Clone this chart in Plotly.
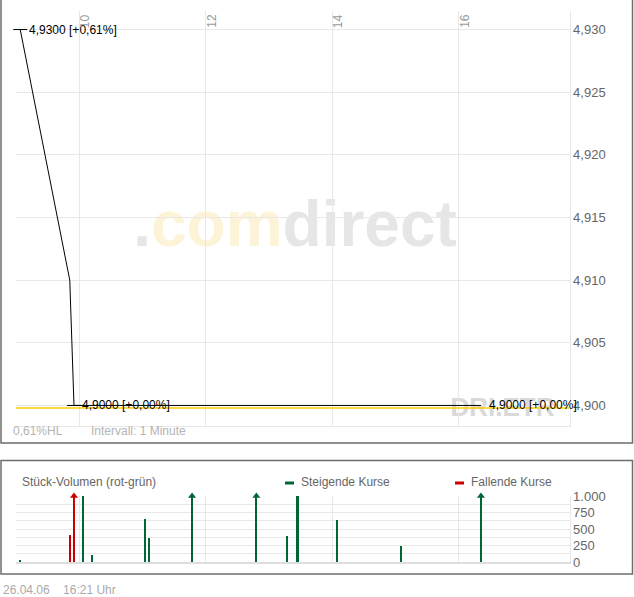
import plotly.graph_objects as go

# ---------------- data ----------------
DAY = "2006-04-26"
price_times = ["09:04", "09:51", "09:53", "09:55", "16:21"]
price_values = [4.930, 4.910, 4.905, 4.900, 4.900]
prev_close = 4.900

vol_times = ["09:04", "09:51", "09:55", "10:04", "10:12", "11:02", "11:06",
             "11:47", "12:48", "13:17", "13:27", "14:04", "15:05", "16:21"]
vol_values = [25, 410, 2000, 1000, 100, 650, 360, 1500, 1800, 400, 1000, 635, 250, 1500]
vol_dir = ["up", "down", "down", "up", "up", "up", "up",
           "up", "up", "up", "up", "up", "up", "up"]

price_ticks = [4.900, 4.905, 4.910, 4.915, 4.920, 4.925, 4.930]
vol_ticks = [0, 250, 500, 750, 1000]
hour_ticks = ["10:00", "12:00", "14:00", "16:00"]
hour_labels = ["10", "12", "14", "16"]
x_range = ["09:00", "17:45"]
price_range = [4.89836, 4.93148]
vol_range = [0, 1000]

# ---------------- helpers ----------------
W, H = 634, 597
FONT = "Liberation Sans, Arial, sans-serif"
GREEN = "#006633"
RED = "#cc0000"
GRID = "#e8e8e8"


def ts(t):
    return f"{DAY} {t}"


def px(x):
    return x / W


def py(y):
    return 1 - y / H


def fmt_de(v, nd):
    return f"{v:.{nd}f}".replace(".", ",")


def price_label(v):
    pct = (v / prev_close - 1) * 100
    return f"{fmt_de(v, 4)} [{'+' if pct >= 0 else ''}{fmt_de(pct, 2)}%]"


px_times = [ts(t) for t in price_times]
vx = [ts(t) for t in vol_times]
xr = [ts(t) for t in x_range]
hx = [ts(t) for t in hour_ticks]

fig = go.Figure()

# price line
fig.add_trace(go.Scatter(x=px_times, y=price_values, mode="lines",
                         line=dict(color="black", width=1), xaxis="x", yaxis="y",
                         hoverinfo="skip", showlegend=False))

# high / low markers
i_hi = max(range(len(price_values)), key=lambda i: price_values[i])
i_lo = min(range(len(price_values)), key=lambda i: price_values[i])
i_last = len(price_values) - 1
fig.add_trace(go.Scatter(x=[px_times[i_hi], px_times[i_lo]],
                         y=[price_values[i_hi], price_values[i_lo]],
                         mode="markers",
                         marker=dict(symbol="line-ew", size=10,
                                     line=dict(color="black", width=1)),
                         cliponaxis=False, xaxis="x", yaxis="y",
                         hoverinfo="skip", showlegend=False))

# volume bars
colors = [GREEN if d == "up" else RED for d in vol_dir]
fig.add_trace(go.Bar(x=vx, y=vol_values, width=114000, marker=dict(color=colors, line=dict(width=0)),
                     xaxis="x2", yaxis="y2", hoverinfo="skip", showlegend=False))

# arrows for clipped bars
ax, ay, ac = [], [], []
for t, v, c in zip(vx, vol_values, colors):
    if v > vol_range[1]:
        ax.append(t)
        ay.append(vol_range[1])
        ac.append(c)
fig.add_trace(go.Scatter(x=ax, y=ay, mode="markers",
                         marker=dict(symbol="triangle-up", size=7, color=ac),
                         cliponaxis=False, xaxis="x2", yaxis="y2",
                         hoverinfo="skip", showlegend=False))

shapes = []
# previous close (yellow) line, slightly below the price line
shapes.append(dict(type="line", xref="paper", x0=px(16), x1=px(569),
                   yref="y", ysizemode="pixel", yanchor=prev_close, y0=-2.5, y1=-2.5,
                   line=dict(color="#ffcc00", width=1.5), layer="above"))
# borders
shapes.append(dict(type="path", xref="paper", yref="paper",
                   path=f"M {px(1)} {py(-2)} L {px(1)} {py(443)} L {px(632.5)} {py(443)} L {px(632.5)} {py(-2)}",
                   line=dict(color="#6e6e6e", width=1.5)))
shapes.append(dict(type="rect", xref="paper", yref="paper",
                   x0=px(1), x1=px(632.5), y0=py(574), y1=py(460.5),
                   line=dict(color="#6e6e6e", width=1.5)))
# legend dashes
shapes.append(dict(type="line", xref="paper", yref="paper", x0=px(285), x1=px(294),
                   y0=py(483), y1=py(483), line=dict(color=GREEN, width=3)))
shapes.append(dict(type="line", xref="paper", yref="paper", x0=px(455), x1=px(464),
                   y0=py(483), y1=py(483), line=dict(color=RED, width=3)))
# watermarks (below grid)
shapes.append(dict(type="rect", xref="paper", yref="paper", layer="below",
                   x0=px(100), x1=px(490), y0=py(258), y1=py(178),
                   line=dict(width=0),
                   label=dict(text='<b><span style="color:#e6e6e6">.</span><span style="color:#fdf3d7">com</span>'
                                   '<span style="color:#e6e6e6">direct</span></b>',
                              font=dict(family=FONT, size=64, color="#e6e6e6"),
                              textposition="middle center")))
shapes.append(dict(type="rect", xref="paper", yref="paper", layer="below",
                   x0=px(430), x1=px(575), y0=py(420), y1=py(390),
                   line=dict(width=0),
                   label=dict(text="<b>DRI.ETR</b>",
                              font=dict(family=FONT, size=26, color="#d9d9d9"),
                              textposition="middle center")))

annotations = []
# price labels
for i, shift in [(i_hi, 7), (i_lo, 6)]:
    annotations.append(dict(x=px_times[i], y=price_values[i], xref="x", yref="y",
                            text=price_label(price_values[i]), showarrow=False,
                            xanchor="left", yanchor="middle", xshift=shift,
                            font=dict(family=FONT, size=12, color="black")))
annotations.append(dict(x=px_times[i_last], y=price_values[i_last], xref="x", yref="y",
                        text=price_label(price_values[i_last]), showarrow=False,
                        xanchor="left", yanchor="middle", xshift=6,
                        font=dict(family=FONT, size=12, color="black")))
# hour labels (rotated, top)
for t, lab in zip(hx, hour_labels):
    annotations.append(dict(x=t, y=py(21), xref="x", yref="paper", text=lab,
                            showarrow=False, textangle=-90, xanchor="center",
                            yanchor="middle", xshift=6,
                            font=dict(family=FONT, size=12, color="#999999")))
# misc texts
def txt(x, y, s, color="#aaaaaa", size=12):
    annotations.append(dict(x=px(x), y=py(y), xref="paper", yref="paper", text=s,
                            showarrow=False, xanchor="left", yanchor="middle",
                            font=dict(family=FONT, size=size, color=color)))


txt(11, 431, "0,61%HL", "#b4b4b4")
txt(89, 431, "Intervall: 1 Minute", "#b4b4b4")
txt(20, 482, "Stück-Volumen (rot-grün)", "#666666")
txt(299, 482, "Steigende Kurse", "#666666")
txt(469, 482, "Fallende Kurse", "#666666")
txt(1, 590, "26.04.06&nbsp;&nbsp;&nbsp;&nbsp;16:21 Uhr", "#aaaaaa")

xdom = [px(16), px(569.5)]
fig.update_layout(
    width=W, height=H, margin=dict(l=0, r=0, t=0, b=0, pad=0, autoexpand=False),
    paper_bgcolor="white", plot_bgcolor="white",
    separators=",.",
    bargap=0,
    font=dict(family=FONT),
    xaxis=dict(domain=xdom, type="date", range=xr, anchor="y", automargin=False,
               tickvals=hx, showticklabels=False, showgrid=True, gridcolor=GRID,
               showline=True, linecolor=GRID, linewidth=1, zeroline=False, ticks=""),
    yaxis=dict(domain=[py(426), py(11)], range=price_range, side="right", anchor="x",
               automargin=False,
               tickvals=price_ticks, tickformat=".3f", showgrid=True, gridcolor=GRID,
               showline=True, linecolor=GRID, zeroline=False, ticks="",
               tickfont=dict(family=FONT, size=13, color="#666666")),
    xaxis2=dict(domain=xdom, type="date", range=xr, anchor="y2", automargin=False,
                tickvals=hx, showticklabels=False, showgrid=True, gridcolor=GRID,
                showline=True, linecolor="#dddddd", linewidth=2, zeroline=False, ticks=""),
    yaxis2=dict(domain=[py(562), py(496)], range=vol_range, side="right", anchor="x2",
                automargin=False,
                tickvals=vol_ticks, tickformat=",d", showgrid=True, gridcolor=GRID,
                minor=dict(tickmode="linear", tick0=0, dtick=125, showgrid=True, gridcolor=GRID),
                showline=True, linecolor=GRID, zeroline=False, ticks="",
                tickfont=dict(family=FONT, size=13, color="#666666")),
    shapes=shapes, annotations=annotations,
)

css_fix = (
    "var s=document.createElement('style');"
    "s.innerHTML='html,body{margin:0!important;padding:0!important;overflow:hidden!important;}"
    " body>div{line-height:0;font-size:0;margin:0;padding:0;}';"
    "document.head.appendChild(s);"
    "window.scrollTo(0,0);"
)
fig.write_html("out.html", config={"displayModeBar": False}, post_script=css_fix)
